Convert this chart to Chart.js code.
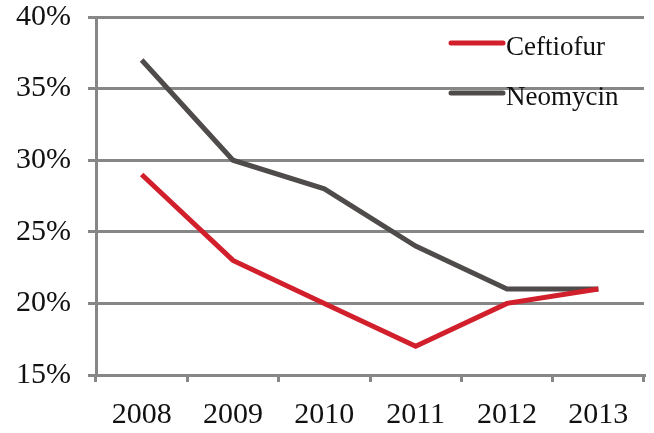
<!DOCTYPE html>
<html>
<head>
<meta charset="utf-8">
<script src="https://cdn.jsdelivr.net/npm/chart.js@4"></script>
<style>
  html, body { margin: 0; padding: 0; background: #fff; }
  #wrap { width: 654px; height: 433px; }
</style>
</head>
<body>
<div id="wrap"><canvas id="chart" width="654" height="433"></canvas></div>
<script>
// resistance share by year
const years = ["2008", "2009", "2010", "2011", "2012", "2013"];
const ceftiofur = [29, 23, 20, 17, 20, 21];
const neomycin = [37, 30, 28, 24, 21, 21];

const gridGray = "#878787";
const serif = "'Liberation Serif', 'Times New Roman', serif";

// legend drawn inside the plot, top right, no frame
const lineLegend = {
  id: "lineLegend",
  afterDraw(chart) {
    const ctx = chart.ctx;
    const area = chart.chartArea;
    const rows = [area.top + 26, area.top + 76];
    ctx.save();
    chart.data.datasets.forEach((ds, i) => {
      const y = rows[i];
      const x0 = area.right - 193;
      ctx.strokeStyle = ds.borderColor;
      ctx.lineWidth = 5;
      ctx.lineCap = "round";
      ctx.beginPath();
      ctx.moveTo(x0, y);
      ctx.lineTo(x0 + 52, y);
      ctx.stroke();
      ctx.fillStyle = "#111";
      ctx.font = "27px " + serif;
      ctx.textBaseline = "middle";
      ctx.fillText(ds.label, x0 + 55, y + 5);
    });
    ctx.restore();
  }
};

const config = {
  type: "line",
  data: {
    labels: years,
    datasets: [
      {
        label: "Ceftiofur",
        data: ceftiofur,
        borderColor: "#d21f2c",
        borderWidth: 5,
        pointRadius: 0,
        tension: 0
      },
      {
        label: "Neomycin",
        data: neomycin,
        borderColor: "#4f4b4b",
        borderWidth: 5,
        pointRadius: 0,
        tension: 0
      }
    ]
  },
  options: {
    responsive: false,
    animation: false,
    layout: { padding: { left: 0, top: 17, right: 10, bottom: 0 } },
    plugins: {
      legend: { display: false },
      tooltip: { enabled: false }
    },
    scales: {
      x: {
        offset: true,
        grid: {
          offset: true,
          drawOnChartArea: false,
          drawTicks: true,
          tickLength: 7,
          color: gridGray,
          lineWidth: 3
        },
        border: { color: gridGray, width: 3 },
        ticks: {
          color: "#111",
          font: { family: serif, size: 30 },
          padding: 15
        },
        afterFit(scale) { scale.height = 58; }
      },
      y: {
        min: 15,
        max: 40,
        grid: {
          color: gridGray,
          lineWidth: 3,
          tickLength: 8
        },
        border: { color: gridGray, width: 3 },
        ticks: {
          stepSize: 5,
          color: "#111",
          font: { family: serif, size: 30 },
          padding: 17,
          callback: (v) => v + "%"
        },
        afterFit(scale) {
          scale.width = 96;
          // let the top label hang into the padding
          scale.paddingTop = 0;
          scale.paddingBottom = 0;
        }
      }
    }
  },
  plugins: [lineLegend]
};

new Chart(document.getElementById("chart"), config);
</script>
</body>
</html>
